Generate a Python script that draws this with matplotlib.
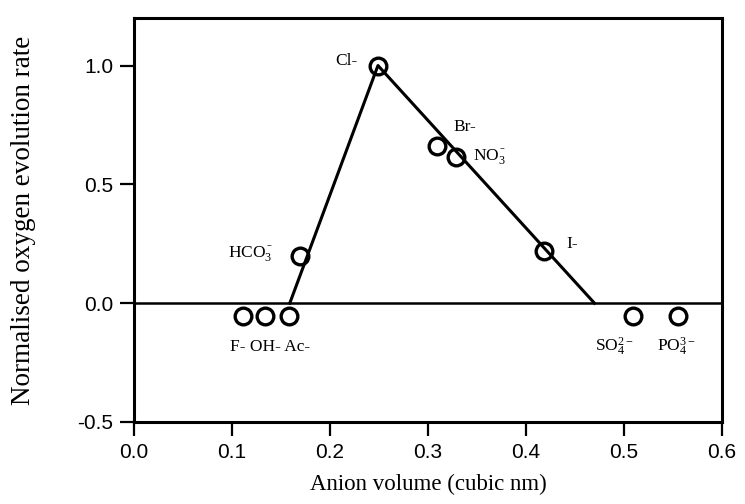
import matplotlib
matplotlib.use("Agg")
import matplotlib.pyplot as plt

# Data
volume = [0.111, 0.134, 0.158, 0.169, 0.249, 0.309, 0.329, 0.418, 0.509, 0.555]
rate = [-0.055, -0.055, -0.055, 0.197, 1.0, 0.66, 0.615, 0.22, -0.055, -0.055]
fit_x = [0.159, 0.249, 0.470]
fit_y = [0.0, 1.0, 0.0]
xticks = [0.0, 0.1, 0.2, 0.3, 0.4, 0.5, 0.6]
yticks = [-0.5, 0.0, 0.5, 1.0]

labels = ["Cl-", "HCO$_3^{^-}$", "Br-", "NO$_3^{^-}$", "I-", "F- OH- Ac-", "SO$_4^{2-}$", "PO$_4^{3-}$"]
label_x = [0.228, 0.141, 0.326, 0.346, 0.4415, 0.1385, 0.471, 0.534]
label_y = [1.02, 0.21, 0.742, 0.615, 0.25, -0.183, -0.183, -0.183]
label_ha = ["right", "right", "left", "left", "left", "center", "left", "left"]

plt.rcParams['mathtext.fontset'] = 'custom'
plt.rcParams['mathtext.rm'] = 'Liberation Serif'
plt.rcParams['mathtext.it'] = 'Liberation Serif'
plt.rcParams['mathtext.default'] = 'rm'

fig = plt.figure(figsize=(7.45, 5.04), dpi=100)
ax = fig.add_axes([0.1799, 0.1627, 0.789, 0.8016])

ax.axhline(0, color='black', lw=1.8, zorder=1)
ax.plot(fit_x, fit_y, color='black', lw=2.2, zorder=2)
ax.plot(volume, rate, linestyle='none', marker='o', markersize=12,
        markerfacecolor='none', markeredgecolor='black', markeredgewidth=2.4, zorder=3)

for t, x, y, ha in zip(labels, label_x, label_y, label_ha):
    ax.text(x, y, t, ha=ha, va='center', fontsize=12.5, family='Liberation Serif')

ax.set_xlim(0, 0.6)
ax.set_ylim(-0.5, 1.2)
ax.set_xticks(xticks)
ax.set_xticklabels([f"{v:.1f}" for v in xticks], family='Liberation Sans', fontsize=15)
ax.set_yticks(yticks)
ax.set_yticklabels([f"{v:.1f}" for v in yticks], family='Liberation Sans', fontsize=15)
ax.tick_params(direction='out', length=10, width=1.6, pad=5)
for s in ax.spines.values():
    s.set_linewidth(2.2)

ax.set_xlabel("Anion volume (cubic nm)", family='Liberation Serif', fontsize=16.5, labelpad=9)
ax.set_ylabel("Normalised oxygen evolution rate", family='Liberation Serif', fontsize=19.5, labelpad=30)

fig.savefig("out.png", dpi=100)
